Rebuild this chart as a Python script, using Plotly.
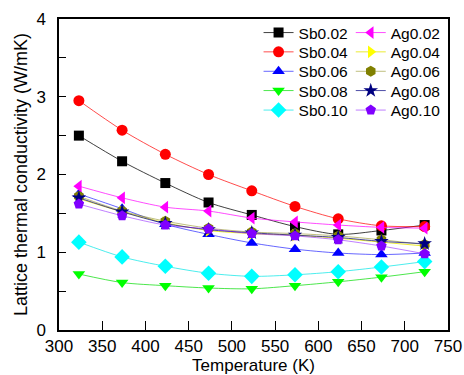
import plotly.graph_objects as go

temperature = [323, 373, 423, 473, 523, 573, 623, 673, 723]

sb002 = [2.50, 2.17, 1.89, 1.64, 1.48, 1.33, 1.23, 1.28, 1.35]
sb004 = [2.95, 2.57, 2.26, 2.00, 1.79, 1.59, 1.43, 1.34, 1.33]
sb006 = [1.75, 1.56, 1.36, 1.23, 1.12, 1.04, 0.99, 0.97, 0.99]
sb008 = [0.72, 0.61, 0.57, 0.54, 0.53, 0.57, 0.62, 0.68, 0.75]
sb010 = [1.13, 0.94, 0.82, 0.73, 0.69, 0.71, 0.75, 0.81, 0.88]
ag002 = [1.85, 1.70, 1.58, 1.53, 1.44, 1.39, 1.35, 1.32, 1.31]
ag004 = [1.69, 1.52, 1.38, 1.28, 1.24, 1.22, 1.18, 1.13, 1.08]
ag006 = [1.72, 1.53, 1.40, 1.31, 1.26, 1.24, 1.21, 1.16, 1.10]
ag008 = [1.70, 1.52, 1.37, 1.29, 1.25, 1.22, 1.19, 1.14, 1.11]
ag010 = [1.62, 1.47, 1.35, 1.30, 1.24, 1.21, 1.16, 1.08, 0.98]

series = [
    ("Sb0.02", sb002, "#000000", "rgba(0,0,0,0.75)", "square", 10),
    ("Sb0.04", sb004, "#ff0000", "rgba(255,0,0,0.7)", "circle", 11),
    ("Sb0.06", sb006, "#0000ff", "rgba(0,0,255,0.6)", "triangle-up", 11),
    ("Sb0.08", sb008, "#00ff00", "rgba(0,220,0,0.7)", "triangle-down", 11),
    ("Sb0.10", sb010, "#00ffff", "rgba(0,230,230,0.7)", "diamond", 12),
    ("Ag0.02", ag002, "#ff00ff", "rgba(255,0,255,0.7)", "triangle-left", 11),
    ("Ag0.04", ag004, "#ffff00", "rgba(230,230,0,0.8)", "triangle-right", 11),
    ("Ag0.06", ag006, "#808000", "rgba(128,128,0,0.5)", "hexagon", 11),
    ("Ag0.08", ag008, "#000080", "rgba(0,0,128,0.7)", "star", 11),
    ("Ag0.10", ag010, "#8000ff", "rgba(128,0,255,0.5)", "pentagon", 11),
]

# legend row positions (paper units), two columns
row_y = [0.955, 0.893, 0.8305, 0.7685, 0.7058]
col_x = [0.513, 0.75]

fig = go.Figure()
legend_layout = {}
for i, (name, vals, mcol, lcol, sym, size) in enumerate(series):
    lid = "legend" if i == 0 else f"legend{i + 1}"
    col, row = divmod(i, 5)
    fig.add_trace(go.Scatter(
        x=temperature, y=vals, name=name, mode="lines+markers",
        line=dict(color=lcol, width=1, shape="spline", smoothing=0.8),
        marker=dict(symbol=sym, size=size, color=mcol, line=dict(width=0)),
        legend=lid, showlegend=True,
    ))
    legend_layout[lid] = dict(x=col_x[col], y=row_y[row], xanchor="left", yanchor="middle",
                              bgcolor="rgba(0,0,0,0)", font=dict(size=15.5),
                              itemwidth=30, tracegroupgap=0)

font = "Liberation Sans, Arial, sans-serif"
fig.update_layout(
    width=464, height=375,
    margin=dict(l=59, r=16, t=19, b=45),
    showlegend=True,
    paper_bgcolor="white", plot_bgcolor="white",
    font=dict(family=font, size=17, color="black"),
    xaxis=dict(range=[300, 750], dtick=50, tick0=300, automargin=False,
               ticks="inside", ticklen=9, tickwidth=1, tickcolor="black",
               showline=True, linecolor="black", linewidth=1.5, mirror=True,
               showgrid=False, zeroline=False,
               title=dict(text="Temperature (K)", font=dict(size=17), standoff=0),
               tickfont=dict(size=17)),
    yaxis=dict(range=[0, 4], dtick=1, tick0=0, automargin=False,
               ticks="inside", ticklen=7, tickwidth=1, tickcolor="black",
               ticklabelstandoff=8,
               minor=dict(dtick=0.5, ticks="inside", ticklen=7, tickcolor="black", showgrid=False),
               showline=True, linecolor="black", linewidth=1.5, mirror=True,
               showgrid=False, zeroline=False,
               title=dict(text="Lattice thermal conductivity (W/mK)", font=dict(size=18), standoff=4),
               tickfont=dict(size=17)),
    **legend_layout,
)

fig.write_html("out.html", config={"displayModeBar": False},
               post_script="document.body.style.margin='0';document.body.style.overflow='hidden';")
